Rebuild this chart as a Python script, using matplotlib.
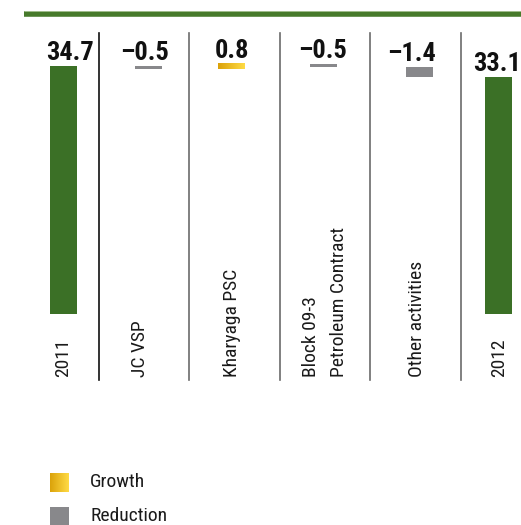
import numpy as np
import matplotlib.pyplot as plt
from matplotlib.patches import Rectangle
from matplotlib.colors import LinearSegmentedColormap

# Daten
categories = ['2011', 'JC VSP', 'Kharyaga PSC', 'Block 09-3\nPetroleum Contract',
              'Other activities', '2012']
values = [34.7, -0.5, 0.8, -0.5, -1.4, 33.1]
kinds = ['total', 'change', 'change', 'change', 'change', 'total']
value_labels = ['34.7', '–0.5', '0.8', '–0.5', '–1.4', '33.1']
legend_labels = ['Growth', 'Reduction']

# Layout (Pixel)
W, H = 521, 525
base_px = 314          # Pixelzeile der Null-Linie
px_per_unit = 7.15
bar_x = [63.5, 148.5, 231, 323.5, 419.5, 498.5]
bar_w = 27
label_dx = [4.5, -2.5, 1.0, -0.5, -5.5, -1.0]   # Verschiebung der Wertlabels (pt)
label_x = [63, 140, 232, 325, 417, 499]
sep_x = [98.7, 189, 280, 370, 460.7]

green = '#3b7026'
gray = '#88888b'
gold = LinearSegmentedColormap.from_list('gold', ['#dba20a', '#ffdb45'])
narrow = ['Roboto Condensed', 'Archivo Narrow', 'Fira Sans Condensed', 'DejaVu Sans']

fig = plt.figure(figsize=(W / 100, H / 100), dpi=100)
ax = fig.add_axes([0, 0, 1, 1])          # Datenachse
deco = fig.add_axes([0, 0, 1, 1])        # Pixelachse fuer Dekoration
deco.patch.set_alpha(0)

# Wasserfall berechnen
bottoms, heights = [], []
running = 0
for v, k in zip(values, kinds):
    if k == 'total':
        bottoms.append(0)
        heights.append(v)
        running = v
    else:
        bottoms.append(running + min(v, 0))
        heights.append(abs(v))
        running += v

colors = []
for v, k in zip(values, kinds):
    if k == 'total':
        colors.append(green)
    elif v > 0:
        colors.append('none')
    else:
        colors.append(gray)

bars = ax.bar(bar_x, heights, bottom=bottoms, width=bar_w, color=colors, linewidth=0)

grad = np.linspace(0, 1, 64).reshape(1, -1)
for b, v, k in zip(bars, values, kinds):
    if k == 'change' and v > 0:
        ax.imshow(grad, cmap=gold, aspect='auto',
                  extent=[b.get_x(), b.get_x() + b.get_width(), b.get_y(), b.get_y() + b.get_height()])

for b, txt, dx in zip(bars, value_labels, label_dx):
    ax.annotate(txt, (b.get_x() + b.get_width() / 2, b.get_y() + b.get_height()),
                xytext=(dx, 4.3), textcoords='offset points', ha='center', va='baseline',
                fontsize=19, fontweight='bold', family=narrow, color='#111111')

ax.set_xlim(0, W)
ax.set_ylim((base_px - H) / px_per_unit, base_px / px_per_unit)
ax.axis('off')

# Dekoration in Pixelkoordinaten
deco.set_xlim(0, W)
deco.set_ylim(H, 0)
deco.axis('off')

deco.plot([24, W], [13.8, 13.8], color='#477a2b', linewidth=4.0, solid_capstyle='butt')
deco.plot([24, W], [11.2, 11.2], color='#a9c495', linewidth=0.6, solid_capstyle='butt')

for i, x in enumerate(sep_x):
    deco.plot([x, x], [32.5, 380], color='#111111' if i == 0 else '#6b6b6b', linewidth=1.2)

for x, lab in zip(label_x, categories):
    deco.text(x, 377, lab, rotation=90, ha='center', va='bottom', multialignment='left',
              fontsize=14, family=narrow, color='#1a1a1a', linespacing=1.65)

# Legende
deco.imshow(grad, cmap=gold, aspect='auto', extent=[50, 69, 491.7, 472.7])
deco.add_patch(Rectangle((50, 506.7), 19, 18.3, color=gray, linewidth=0))
deco.text(90, 482, legend_labels[0], va='center', ha='left', fontsize=14, family=narrow, color='#1a1a1a')
deco.text(90, 516, legend_labels[1], va='center', ha='left', fontsize=14, family=narrow, color='#1a1a1a')
deco.set_xlim(0, W)
deco.set_ylim(H, 0)

fig.savefig('out.png', dpi=100)
